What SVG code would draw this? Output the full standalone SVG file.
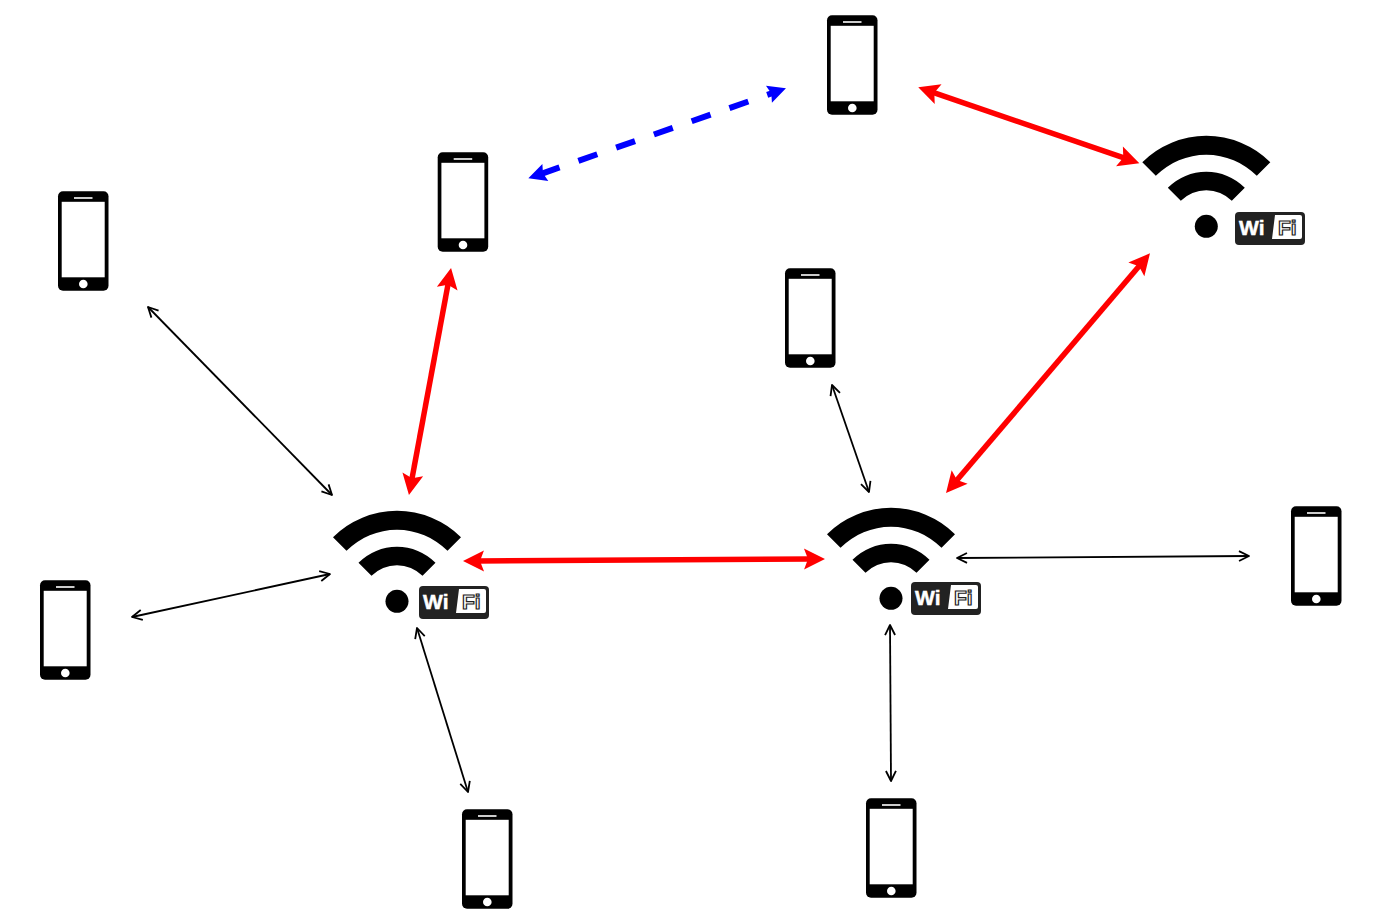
<svg xmlns="http://www.w3.org/2000/svg" width="1382" height="924" viewBox="0 0 1382 924">
<style>
.thin{fill:none;stroke:#000;stroke-width:1.8;marker-start:url(#ts);marker-end:url(#te)}
.red{fill:none;stroke:#f00;stroke-width:5.5;marker-start:url(#rs);marker-end:url(#re)}
.blue{fill:none;stroke:#00f;stroke-width:6;stroke-dasharray:20 20;stroke-dashoffset:-5;marker-start:url(#bs);marker-end:url(#be)}
.wt{font-family:"Liberation Sans",Arial,sans-serif;font-weight:700;font-size:21px}
</style>
<defs>
<marker id="te" markerUnits="userSpaceOnUse" markerWidth="16" markerHeight="16" refX="13" refY="8" orient="auto"><path d="M3 3L13 8L3 13" fill="none" stroke="#000" stroke-width="1.8" stroke-linejoin="round"/></marker>
<marker id="ts" markerUnits="userSpaceOnUse" markerWidth="16" markerHeight="16" refX="3" refY="8" orient="auto"><path d="M13 3L3 8L13 13" fill="none" stroke="#000" stroke-width="1.8" stroke-linejoin="round"/></marker>
<marker id="re" markerUnits="userSpaceOnUse" markerWidth="28" markerHeight="28" refX="12" refY="14" orient="auto"><path d="M26 14L5 3.500L9 14L5 24.500Z" fill="#f00"/></marker>
<marker id="rs" markerUnits="userSpaceOnUse" markerWidth="28" markerHeight="28" refX="16" refY="14" orient="auto"><path d="M2 14L23 3.500L19 14L23 24.500Z" fill="#f00"/></marker>
<marker id="be" markerUnits="userSpaceOnUse" markerWidth="24" markerHeight="24" refX="12" refY="12" orient="auto"><path d="M20 12L2 3L4.500 12L2 21Z" fill="#00f"/></marker>
<marker id="bs" markerUnits="userSpaceOnUse" markerWidth="24" markerHeight="24" refX="12" refY="12" orient="auto"><path d="M4 12L22 3L19.500 12L22 21Z" fill="#00f"/></marker>
<symbol id="phone" width="51" height="100" viewBox="0 0 51 100" overflow="visible">
<rect x="0" y="0" width="50.500" height="99.500" rx="5" fill="#000"/>
<rect x="3.700" y="10.500" width="43" height="75.500" fill="#fff"/>
<rect x="16" y="5.700" width="18.500" height="2" fill="#ccc"/>
<circle cx="25.300" cy="92.700" r="4.300" fill="#fff"/>
</symbol>
<symbol id="wifi" width="130" height="105" viewBox="-65 -91 130 105" overflow="visible">
<path d="M-64 -64A90.500 90.500 0 0 1 64 -64L50.500 -50.500A71.400 71.400 0 0 0 -50.500 -50.500Z" fill="#000"/>
<path d="M-38.500 -38.500A54.400 54.400 0 0 1 38.500 -38.500L25.500 -25.500A36 36 0 0 0 -25.500 -25.500Z" fill="#000"/>
<circle cx="0" cy="0" r="11.500" fill="#000"/>
</symbol>
<symbol id="badge" width="70" height="33" viewBox="0 0 70 33" overflow="visible">
<rect x="0" y="0" width="70" height="33" rx="4" fill="#222"/>
<path d="M40 3H65Q67 3 67 5V25Q67 27 65 27H37Z" fill="#fff"/>
<text class="wt" x="4" y="23" fill="#fff" stroke="#fff" stroke-width="0.5">Wi</text>
<text class="wt" x="43" y="23" fill="#fff" stroke="#222" stroke-width="1.200">Fi</text>
</symbol>
</defs>
<rect width="1382" height="924" fill="#fff"/>
<g id="connectors">
<line class="thin" x1="148" y1="307" x2="332" y2="495"/>
<line class="thin" x1="132" y1="617" x2="330" y2="574"/>
<line class="thin" x1="417" y1="628" x2="468" y2="792"/>
<line class="thin" x1="832" y1="385" x2="869" y2="492"/>
<line class="thin" x1="957" y1="558" x2="1249" y2="556"/>
<line class="thin" x1="890" y1="625" x2="891" y2="781"/>
<line class="red" x1="448.500" y1="281.800" x2="411.500" y2="481.200"/>
<line class="red" x1="477" y1="561" x2="811" y2="559"/>
<line class="red" x1="1140.900" y1="264" x2="955.100" y2="482.300"/>
<line class="red" x1="931.500" y1="91.900" x2="1126.100" y2="158.700"/>
<line class="blue" x1="535.900" y1="175.700" x2="778.400" y2="91"/>
</g>
<g id="phone-top"><use href="#phone" x="827" y="15.300"/></g>
<g id="phone-upper-mid"><use href="#phone" x="437.700" y="152.300"/></g>
<g id="phone-left-upper"><use href="#phone" x="58" y="191.300"/></g>
<g id="phone-center"><use href="#phone" x="785" y="268.300"/></g>
<g id="phone-right"><use href="#phone" x="1291" y="506.300"/></g>
<g id="phone-left-lower"><use href="#phone" x="40" y="580.300"/></g>
<g id="phone-bottom-left"><use href="#phone" x="462" y="809.300"/></g>
<g id="phone-bottom-right"><use href="#phone" x="866" y="798.300"/></g>
<g id="wifi-left"><use href="#wifi" x="332" y="510.300"/><use href="#badge" x="419" y="586"/></g>
<g id="wifi-center"><use href="#wifi" x="826" y="507.300"/><use href="#badge" x="911" y="582"/></g>
<g id="wifi-right"><use href="#wifi" x="1141.300" y="135.300"/><use href="#badge" x="1235" y="212"/></g>
</svg>
